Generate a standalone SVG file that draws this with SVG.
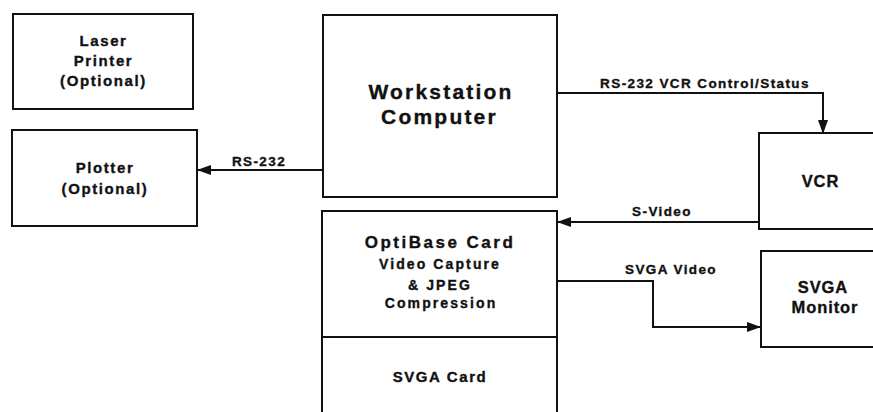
<svg xmlns="http://www.w3.org/2000/svg" width="873" height="412" viewBox="0 0 873 412">
<style>
.box{fill:#fff;stroke:#111;stroke-width:2}
.t{font-family:"Liberation Sans",Arial,sans-serif;font-weight:bold;fill:#111;stroke:#111;stroke-width:0.35;text-anchor:middle}
.n{font-size:15px;letter-spacing:1.6px}
.s{font-size:14px;letter-spacing:2.1px}
.m{font-size:16.5px;letter-spacing:0.9px}
.big{font-size:21px;letter-spacing:2.2px}
.h{font-size:17px;letter-spacing:2.5px}
.lab{font-size:13.5px;letter-spacing:1.4px}
.c{fill:none;stroke:#111;stroke-width:2}
</style>
<defs>
<marker id="ah" markerUnits="userSpaceOnUse" markerWidth="14" markerHeight="10" refX="13" refY="5" orient="auto">
<path d="M0,0 L14,5 L0,10 Z" fill="#111"/>
</marker>
</defs>
<rect width="873" height="412" fill="#fff"/>
<g id="laser">
<rect class="box" x="13" y="14" width="180" height="95"/>
<text class="t n" x="103.5" y="46">Laser</text>
<text class="t n" x="103.5" y="66">Printer</text>
<text class="t n" x="103.5" y="86">(Optional)</text>
</g>
<g id="plotter">
<rect class="box" x="12" y="130" width="185" height="96"/>
<text class="t n" x="105" y="173">Plotter</text>
<text class="t n" x="105" y="194">(Optional)</text>
</g>
<g id="workstation">
<rect class="box" x="323" y="15" width="234" height="182"/>
<text class="t big" x="441" y="99">Workstation</text>
<text class="t big" x="439.5" y="124">Computer</text>
</g>
<g id="optibase">
<rect class="box" x="322" y="211" width="235" height="126"/>
<text class="t h" x="440" y="248">OptiBase Card</text>
<text class="t s" x="440" y="269">Video Capture</text>
<text class="t s" x="440" y="290">&amp; JPEG</text>
<text class="t s" x="441" y="308">Compression</text>
</g>
<g id="svgacard">
<path class="c" d="M322,337 V414 M557,337 V414"/>
<text class="t n" x="440" y="382">SVGA Card</text>
</g>
<g id="vcr">
<rect class="box" x="759" y="133" width="125" height="96"/>
<text class="t m" x="820.5" y="187">VCR</text>
</g>
<g id="monitor">
<rect class="box" x="761" y="251" width="125" height="96"/>
<text class="t m" x="823" y="293">SVGA</text>
<text class="t m" x="825" y="313">Monitor</text>
</g>
<g id="connectors">
<path class="c" d="M323,170 H198" marker-end="url(#ah)"/>
<path class="c" d="M557,93 H823 V133" marker-end="url(#ah)"/>
<path class="c" d="M759,222 H558" marker-end="url(#ah)"/>
<path class="c" d="M557,281 H653 V327 H760" marker-end="url(#ah)"/>
<text class="t lab" x="259" y="166">RS-232</text>
<text class="t lab" x="705" y="88">RS-232 VCR Control/Status</text>
<text class="t lab" x="662" y="216">S-Video</text>
<text class="t lab" x="671" y="274">SVGA Video</text>
</g>
</svg>
